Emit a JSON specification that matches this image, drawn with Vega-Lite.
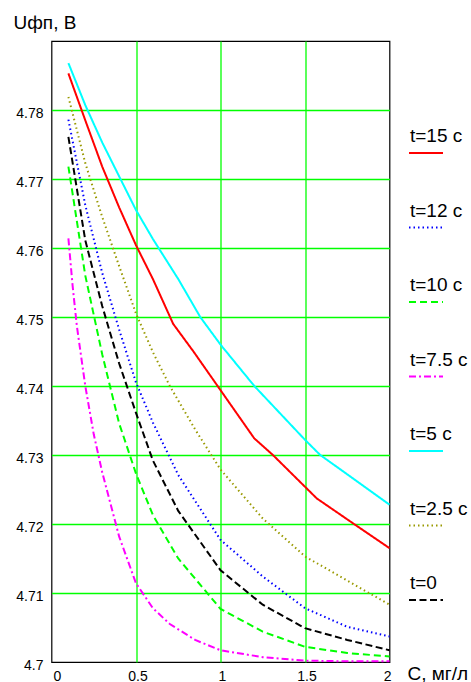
{
  "$schema": "https://vega.github.io/schema/vega-lite/v6.json",
  "autosize": {"type": "none"},
  "padding": {"left": 51.5, "top": 41, "right": 81.5, "bottom": 20},
  "width": 338,
  "height": 621,
  "background": "#ffffff",
  "config": {
    "font": "Liberation Sans",
    "view": {"stroke": "#000000", "strokeWidth": 1.2},
    "style": {"guide-label": {"lineHeight": 34}}
  },
  "data": {
    "values": [
      {"t": "t=15 с", "C": 0.1, "U": 4.7853},
      {"t": "t=15 с", "C": 0.2, "U": 4.7785},
      {"t": "t=15 с", "C": 0.3, "U": 4.7718},
      {"t": "t=15 с", "C": 0.4, "U": 4.7659},
      {"t": "t=15 с", "C": 0.5, "U": 4.7604},
      {"t": "t=15 с", "C": 0.6, "U": 4.7555},
      {"t": "t=15 с", "C": 0.72, "U": 4.749},
      {"t": "t=15 с", "C": 0.84, "U": 4.745},
      {"t": "t=15 с", "C": 1.0, "U": 4.7394},
      {"t": "t=15 с", "C": 1.2, "U": 4.7324},
      {"t": "t=15 с", "C": 1.31, "U": 4.73},
      {"t": "t=15 с", "C": 1.57, "U": 4.7237},
      {"t": "t=15 с", "C": 1.79, "U": 4.72},
      {"t": "t=15 с", "C": 2.0, "U": 4.7165},

      {"t": "t=12 с", "C": 0.1, "U": 4.7786},
      {"t": "t=12 с", "C": 0.2, "U": 4.7662},
      {"t": "t=12 с", "C": 0.3, "U": 4.7564},
      {"t": "t=12 с", "C": 0.4, "U": 4.7482},
      {"t": "t=12 с", "C": 0.5, "U": 4.7405},
      {"t": "t=12 с", "C": 0.6, "U": 4.7347},
      {"t": "t=12 с", "C": 0.75, "U": 4.7271},
      {"t": "t=12 с", "C": 1.0, "U": 4.7177},
      {"t": "t=12 с", "C": 1.25, "U": 4.7124},
      {"t": "t=12 с", "C": 1.5, "U": 4.7078},
      {"t": "t=12 с", "C": 1.75, "U": 4.7051},
      {"t": "t=12 с", "C": 2.0, "U": 4.7037},

      {"t": "t=10 с", "C": 0.1, "U": 4.7718},
      {"t": "t=10 с", "C": 0.2, "U": 4.756},
      {"t": "t=10 с", "C": 0.3, "U": 4.7446},
      {"t": "t=10 с", "C": 0.4, "U": 4.7346},
      {"t": "t=10 с", "C": 0.5, "U": 4.7273},
      {"t": "t=10 с", "C": 0.6, "U": 4.7213},
      {"t": "t=10 с", "C": 0.75, "U": 4.715},
      {"t": "t=10 с", "C": 1.0, "U": 4.7077},
      {"t": "t=10 с", "C": 1.25, "U": 4.7044},
      {"t": "t=10 с", "C": 1.5, "U": 4.7022},
      {"t": "t=10 с", "C": 1.75, "U": 4.7013},
      {"t": "t=10 с", "C": 2.0, "U": 4.7008},

      {"t": "t=7.5 с", "C": 0.1, "U": 4.7614},
      {"t": "t=7.5 с", "C": 0.125, "U": 4.7545},
      {"t": "t=7.5 с", "C": 0.15, "U": 4.7487},
      {"t": "t=7.5 с", "C": 0.2, "U": 4.74},
      {"t": "t=7.5 с", "C": 0.25, "U": 4.733},
      {"t": "t=7.5 с", "C": 0.3, "U": 4.7275},
      {"t": "t=7.5 с", "C": 0.4, "U": 4.7182},
      {"t": "t=7.5 с", "C": 0.5, "U": 4.7114},
      {"t": "t=7.5 с", "C": 0.6, "U": 4.7078},
      {"t": "t=7.5 с", "C": 0.7, "U": 4.7055},
      {"t": "t=7.5 с", "C": 0.85, "U": 4.7032},
      {"t": "t=7.5 с", "C": 1.0, "U": 4.7017},
      {"t": "t=7.5 с", "C": 1.25, "U": 4.7007},
      {"t": "t=7.5 с", "C": 1.5, "U": 4.7002},
      {"t": "t=7.5 с", "C": 1.75, "U": 4.7001},
      {"t": "t=7.5 с", "C": 2.0, "U": 4.7001},

      {"t": "t=5 с", "C": 0.1, "U": 4.7868},
      {"t": "t=5 с", "C": 0.2, "U": 4.7807},
      {"t": "t=5 с", "C": 0.3, "U": 4.7753},
      {"t": "t=5 с", "C": 0.4, "U": 4.7704},
      {"t": "t=5 с", "C": 0.5, "U": 4.7655},
      {"t": "t=5 с", "C": 0.6, "U": 4.7613},
      {"t": "t=5 с", "C": 0.75, "U": 4.7555},
      {"t": "t=5 с", "C": 0.88, "U": 4.75},
      {"t": "t=5 с", "C": 1.0, "U": 4.746},
      {"t": "t=5 с", "C": 1.2, "U": 4.74},
      {"t": "t=5 с", "C": 1.5, "U": 4.7322},
      {"t": "t=5 с", "C": 1.59, "U": 4.73},
      {"t": "t=5 с", "C": 1.75, "U": 4.7272},
      {"t": "t=5 с", "C": 2.0, "U": 4.7228},

      {"t": "t=2.5 с", "C": 0.1, "U": 4.7819},
      {"t": "t=2.5 с", "C": 0.2, "U": 4.7723},
      {"t": "t=2.5 с", "C": 0.3, "U": 4.7645},
      {"t": "t=2.5 с", "C": 0.4, "U": 4.7574},
      {"t": "t=2.5 с", "C": 0.5, "U": 4.7505},
      {"t": "t=2.5 с", "C": 0.6, "U": 4.7449},
      {"t": "t=2.5 с", "C": 0.7, "U": 4.74},
      {"t": "t=2.5 с", "C": 0.85, "U": 4.7337},
      {"t": "t=2.5 с", "C": 1.0, "U": 4.7279},
      {"t": "t=2.5 с", "C": 1.25, "U": 4.7208},
      {"t": "t=2.5 с", "C": 1.5, "U": 4.7153},
      {"t": "t=2.5 с", "C": 1.75, "U": 4.7118},
      {"t": "t=2.5 с", "C": 2.0, "U": 4.7083},

      {"t": "t=0", "C": 0.1, "U": 4.7761},
      {"t": "t=0", "C": 0.2, "U": 4.7611},
      {"t": "t=0", "C": 0.3, "U": 4.7516},
      {"t": "t=0", "C": 0.4, "U": 4.7433},
      {"t": "t=0", "C": 0.5, "U": 4.7361},
      {"t": "t=0", "C": 0.6, "U": 4.7292},
      {"t": "t=0", "C": 0.75, "U": 4.7219},
      {"t": "t=0", "C": 1.0, "U": 4.7133},
      {"t": "t=0", "C": 1.25, "U": 4.7083},
      {"t": "t=0", "C": 1.5, "U": 4.7049},
      {"t": "t=0", "C": 1.75, "U": 4.7032},
      {"t": "t=0", "C": 2.0, "U": 4.7017}
    ]
  },
  "mark": {"type": "line", "strokeCap": "butt"},
  "encoding": {
    "x": {
      "field": "C",
      "type": "quantitative",
      "scale": {"domain": [0, 2], "nice": false, "zero": false},
      "axis": {
        "values": [0, 0.5, 1, 1.5, 2],
        "format": "~g",
        "ticks": false,
        "domain": false,
        "grid": true,
        "gridColor": {"condition": {"test": "datum.value <= 0 || datum.value >= 2", "value": "transparent"}, "value": "#00ff00"},
        "gridWidth": 1.3,
        "labelFontSize": 14,
        "labelColor": "#000000",
        "labelPadding": 7,
        "labelOffset": 1.5,
        "title": "С, мг/л",
        "titleFontSize": 19,
        "titleFontWeight": "normal",
        "titleColor": "#000000",
        "titleAlign": "left",
        "titleBaseline": "alphabetic",
        "titleX": 355.5,
        "titleY": 17
      }
    },
    "y": {
      "field": "U",
      "type": "quantitative",
      "scale": {"domain": [4.7, 4.79], "nice": false, "zero": false},
      "axis": {
        "values": [4.7, 4.71, 4.72, 4.73, 4.74, 4.75, 4.76, 4.77, 4.78],
        "format": "~g",
        "ticks": false,
        "domain": false,
        "grid": true,
        "gridColor": {"condition": {"test": "datum.value <= 4.7", "value": "transparent"}, "value": "#00ff00"},
        "gridWidth": 1.3,
        "labelFontSize": 14,
        "labelColor": "#000000",
        "labelPadding": 8.5,
        "labelOffset": 3,
        "title": "Uфп, В",
        "titleAngle": 0,
        "titleFontSize": 19,
        "titleFontWeight": "normal",
        "titleColor": "#000000",
        "titleAlign": "left",
        "titleBaseline": "alphabetic",
        "titleX": -38.5,
        "titleY": -13
      }
    },
    "color": {
      "field": "t",
      "type": "nominal",
      "scale": {
        "domain": ["t=15 с", "t=12 с", "t=10 с", "t=7.5 с", "t=5 с", "t=2.5 с", "t=0"],
        "range": ["#ff0000", "#0000ff", "#00ff00", "#ff00ff", "#00ffff", "#999900", "#000000"]
      },
      "legend": {
        "title": null,
        "orient": "none",
        "legendX": 356.5,
        "legendY": 94,
        "padding": 0,
        "symbolType": "stroke",
        "symbolSize": 1156,
        "symbolStrokeWidth": 2,
        "labelFontSize": 19,
        "labelColor": "#000000",
        "labelOffset": -34,
        "labelBaseline": "line-bottom",
        "labelLimit": 0,
        "rowPadding": 44.5
      }
    },
    "strokeDash": {
      "field": "t",
      "type": "nominal",
      "scale": {
        "domain": ["t=15 с", "t=12 с", "t=10 с", "t=7.5 с", "t=5 с", "t=2.5 с", "t=0"],
        "range": [[1, 0], [1.5, 3], [7, 4], [7, 3, 2, 3], [1, 0], [1.5, 3], [7, 3.5]]
      }
    }
  }
}
